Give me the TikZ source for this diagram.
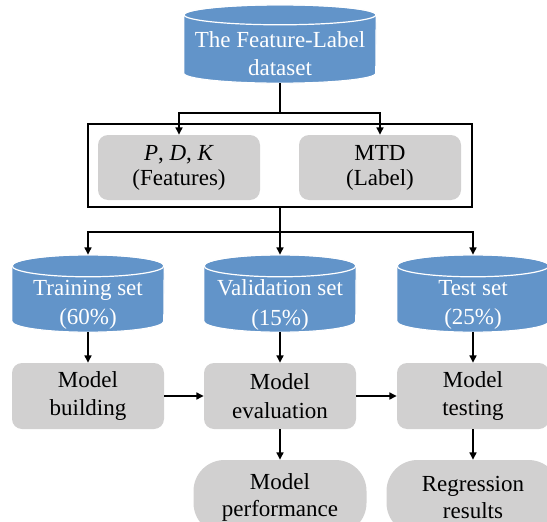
\documentclass[tikz,border=0pt]{standalone}
\usepackage{fontspec}
\setmainfont{Liberation Serif}
\usetikzlibrary{arrows.meta,backgrounds}

\definecolor{dbblue}{RGB}{98,148,201}
\definecolor{boxgray}{RGB}{209,208,208}

% Cylinder body drawn around an (invisible) frame node:
% #1 = frame node, #2 = half width, #3 = radius of the end ellipses
\newcommand\cylbody[3]{%
  \filldraw[fill=dbblue,draw=white,line width=1.2pt]
    ([yshift=-#3]#1.north west) -- ([yshift=#3]#1.south west)
    arc[start angle=180,end angle=360,x radius=#2,y radius=#3]
    -- ([yshift=-#3]#1.north east)
    arc[start angle=0,end angle=180,x radius=#2,y radius=#3] -- cycle;
  \draw[white,line width=1.2pt] ([yshift=-#3]#1.north) ellipse[x radius=#2,y radius=#3];
}

\tikzset{
  x=1pt, y=1pt,
  txt/.style={font=\fontsize{23}{28.5}\selectfont, align=center, inner sep=0pt},
  cylframe/.style={inner sep=0pt, minimum width=152pt, minimum height=77pt},
  cyltext/.style={txt, text=white, font=\fontsize{23}{29.5}\selectfont},
  graybox/.style={txt, fill=boxgray, rounded corners=10pt, minimum width=152pt, minimum height=66pt},
  pill/.style={txt, fill=boxgray, rounded corners=31pt, minimum width=173pt, minimum height=74pt,
    font=\fontsize{23}{27}\selectfont},
  frame/.style={draw=black, line width=1.6pt, inner sep=0pt},
  conn/.style={draw=black, line width=1.6pt},
  arr/.style={conn, -{Triangle[length=7.5pt,width=7pt]}},
}

\begin{document}
\begin{tikzpicture}
\clip (0,0) rectangle (547,-522);

% source dataset
\node[cylframe, minimum width=192pt, minimum height=78pt] (data) at (280,-44) {};
\node[cyltext, font=\fontsize{23}{28}\selectfont] (dataT) at (280,-54) {The Feature-Label\\dataset};

% features and label group
\node[frame, minimum width=384pt, minimum height=83pt] (group) at (280,-165.5) {};
\node[graybox, minimum width=162pt, minimum height=65pt, font=\fontsize{23}{25}\selectfont]
  (feat) at (179,-167.5) {\textit{P}, \textit{D}, \textit{K}\\(Features)};
\node[graybox, minimum width=162pt, minimum height=65pt, font=\fontsize{23}{25}\selectfont]
  (lab) at (380,-167.5) {MTD\\(Label)};

% data splits
\node[cylframe] (train) at (88,-293.5) {};
\node[cylframe] (valid) at (280,-293.5) {};
\node[cylframe] (test)  at (473,-293.5) {};
\node[cyltext] (trainT) at (88,-305) {Training set\\(60\%)};
\node[cyltext] (validT) at (280,-305) {Validation set\\(15\%)};
\node[cyltext] (testT)  at (473,-305) {Test set\\(25\%)};

% modelling steps
\node[graybox] (build) at (88,-396)  {Model\\building};
\node[graybox] (evalu) at (280,-396) {Model\\evaluation};
\node[graybox] (testg) at (473,-396) {Model\\testing};

% outputs
\node[pill] (perf) at (280,-497) {Model\\performance};
\node[pill] (regr) at (473,-497) {Regression\\results};

\begin{pgfonlayer}{background}
  \cylbody{data}{96pt}{10pt}
  \cylbody{train}{76pt}{11pt}
  \cylbody{valid}{76pt}{11pt}
  \cylbody{test}{76pt}{11pt}
\end{pgfonlayer}

% branch points
\coordinate (fork1) at (280,-113);
\coordinate (fork2) at (280,-232);

\draw[conn] (data.south) -- (fork1);
\draw[arr] (fork1) -| (feat.north);
\draw[arr] (fork1) -| (lab.north);

\draw[conn] (group.south) -- (fork2);
\draw[arr] (fork2) -| (train.north);
\draw[arr] (fork2) -- (valid.north);
\draw[arr] (fork2) -| (test.north);

\draw[arr] (train.south) -- (build.north);
\draw[arr] (valid.south) -- (evalu.north);
\draw[arr] (test.south)  -- (testg.north);

\draw[arr] (build.east) -- (evalu.west);
\draw[arr] (evalu.east) -- (testg.west);

\draw[arr] (evalu.south) -- (perf.north);
\draw[arr] (testg.south) -- (regr.north);
\end{tikzpicture}
\end{document}
